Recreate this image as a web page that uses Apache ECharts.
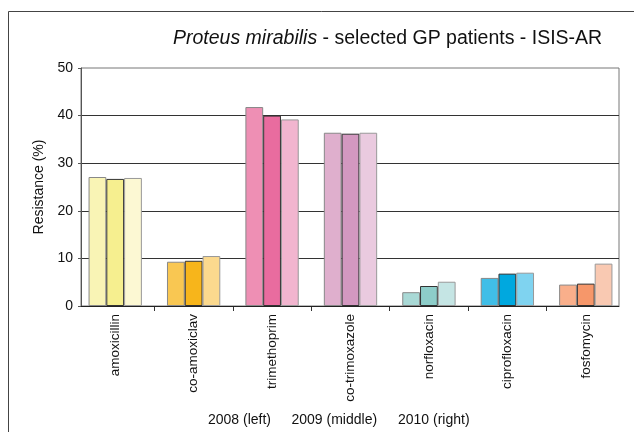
<!DOCTYPE html>
<html><head><meta charset="utf-8">
<script src="https://cdn.jsdelivr.net/npm/echarts@6/dist/echarts.min.js"></script>
<style>html,body{margin:0;padding:0;background:#fff}#c{width:634px;height:432px}</style>
</head><body><div id="c"></div>
<script>
const categories = ['amoxicillin','co-amoxiclav','trimethoprim','co-trimoxazole','norfloxacin','ciprofloxacin','fosfomycin'];
const values2008 = [27.1, 9.3, 41.8, 36.4, 2.9, 5.9, 4.5];
const values2009 = [26.7, 9.5, 40.0, 36.2, 4.2, 6.8, 4.7];
const values2010 = [26.9, 10.5, 39.2, 36.4, 5.1, 7.0, 8.9];
const colors2008 = ['#F9F4B5','#F9C752','#EE8FB4','#DFAFCD','#A9D9D6','#40BEE7','#F9AF8B'];
const colors2009 = ['#F6EF8F','#F7B51B','#E96C9F','#D398C0','#8DCDC9','#00A8DF','#F6976A'];
const colors2010 = ['#FCF8D3','#FBD98E','#F2B5CF','#EACADF','#C5E5E4','#7FD3F0','#F9C9B2'];
const yMin = 0, yMax = 50, yStep = 10;
const titleItalic = 'Proteus mirabilis';
const titleRest = ' - selected GP patients - ISIS-AR';
const yName = 'Resistance (%)';
const legendText = ['2008 (left)', '2009 (middle)', '2010 (right)'];
const legendLeft = [208, 291.5, 398];

const FONT = 'Liberation Sans, Arial, Helvetica, sans-serif';
const chart = echarts.init(document.getElementById('c'), null, {renderer: 'canvas'});

function mk(vals, cols, border, name) {
  return {
    type: 'bar', name: name, xAxisIndex: 1, yAxisIndex: 1,
    barGap: '0%', barCategoryGap: '32%',
    itemStyle: {borderColor: border, borderWidth: 1},
    data: vals.map((v, i) => ({value: v, itemStyle: {color: cols[i]}}))
  };
}

const titles = [{
  text: '{i|' + titleItalic + '}{n|' + titleRest + '}',
  left: 173, top: 29, padding: 0,
  textStyle: {fontFamily: FONT, fontSize: 19.5, fontWeight: 'normal', color: '#111',
    rich: {i: {fontStyle: 'italic', fontSize: 19.5, color: '#111', fontFamily: FONT},
           n: {fontSize: 19.5, color: '#111', fontFamily: FONT}}}
}];
legendText.forEach((t, k) => titles.push({
  text: t, left: legendLeft[k], top: 413, padding: 0,
  textStyle: {fontFamily: FONT, fontSize: 14, fontWeight: 'normal', color: '#111'}
}));

chart.setOption({
  animation: false,
  textStyle: {fontFamily: FONT},
  title: titles,
  graphic: [{type: 'rect', silent: true, z: -1,
    shape: {x: 8.5, y: 11.5, width: 700, height: 500},
    style: {fill: null, stroke: '#444', lineWidth: 1}}],
  grid: [
    {left: 81, top: 68, width: 538, height: 238, show: true, borderColor: '#777', borderWidth: 1, backgroundColor: 'transparent'},
    {left: 76, top: 68, width: 549, height: 238},
    {left: 76, top: 306, width: 549, height: 5}
  ],
  xAxis: [
    {gridIndex: 0, type: 'category', data: categories,
     axisLine: {show: true, lineStyle: {color: '#222'}}, axisTick: {show: false}, axisLabel: {show: false}},
    {gridIndex: 1, type: 'category', data: categories,
     axisLine: {show: false},
     axisTick: {show: false},
     axisLabel: {rotate: 90, fontSize: 13.5, margin: 8, color: '#111', fontFamily: FONT, interval: 0}},
    {gridIndex: 2, type: 'category', data: categories,
     axisLine: {show: false}, axisTick: {show: false}, axisLabel: {show: false},
     splitLine: {show: true, interval: 0, showMinLine: false, showMaxLine: false, lineStyle: {color: '#333'}}}
  ],
  yAxis: [
    {gridIndex: 0, type: 'value', min: yMin, max: yMax, interval: yStep,
     name: yName, nameLocation: 'middle', nameGap: 35,
     nameTextStyle: {fontSize: 14, color: '#111', fontFamily: FONT},
     axisLine: {show: true, lineStyle: {color: '#555'}},
     axisTick: {show: true, length: 3, lineStyle: {color: '#555'}},
     axisLabel: {fontSize: 14, color: '#111', margin: 8, fontFamily: FONT},
     splitLine: {show: true, showMaxLine: false, lineStyle: {color: '#333'}}},
    {gridIndex: 1, type: 'value', min: yMin, max: yMax, interval: yStep, show: false, splitLine: {show: false}},
    {gridIndex: 2, type: 'value', show: false, splitLine: {show: false}}
  ],
  series: [
    mk(values2008, colors2008, '#888', '2008'),
    mk(values2009, colors2009, '#333', '2009'),
    mk(values2010, colors2010, '#999', '2010')
  ]
});
</script></body></html>
